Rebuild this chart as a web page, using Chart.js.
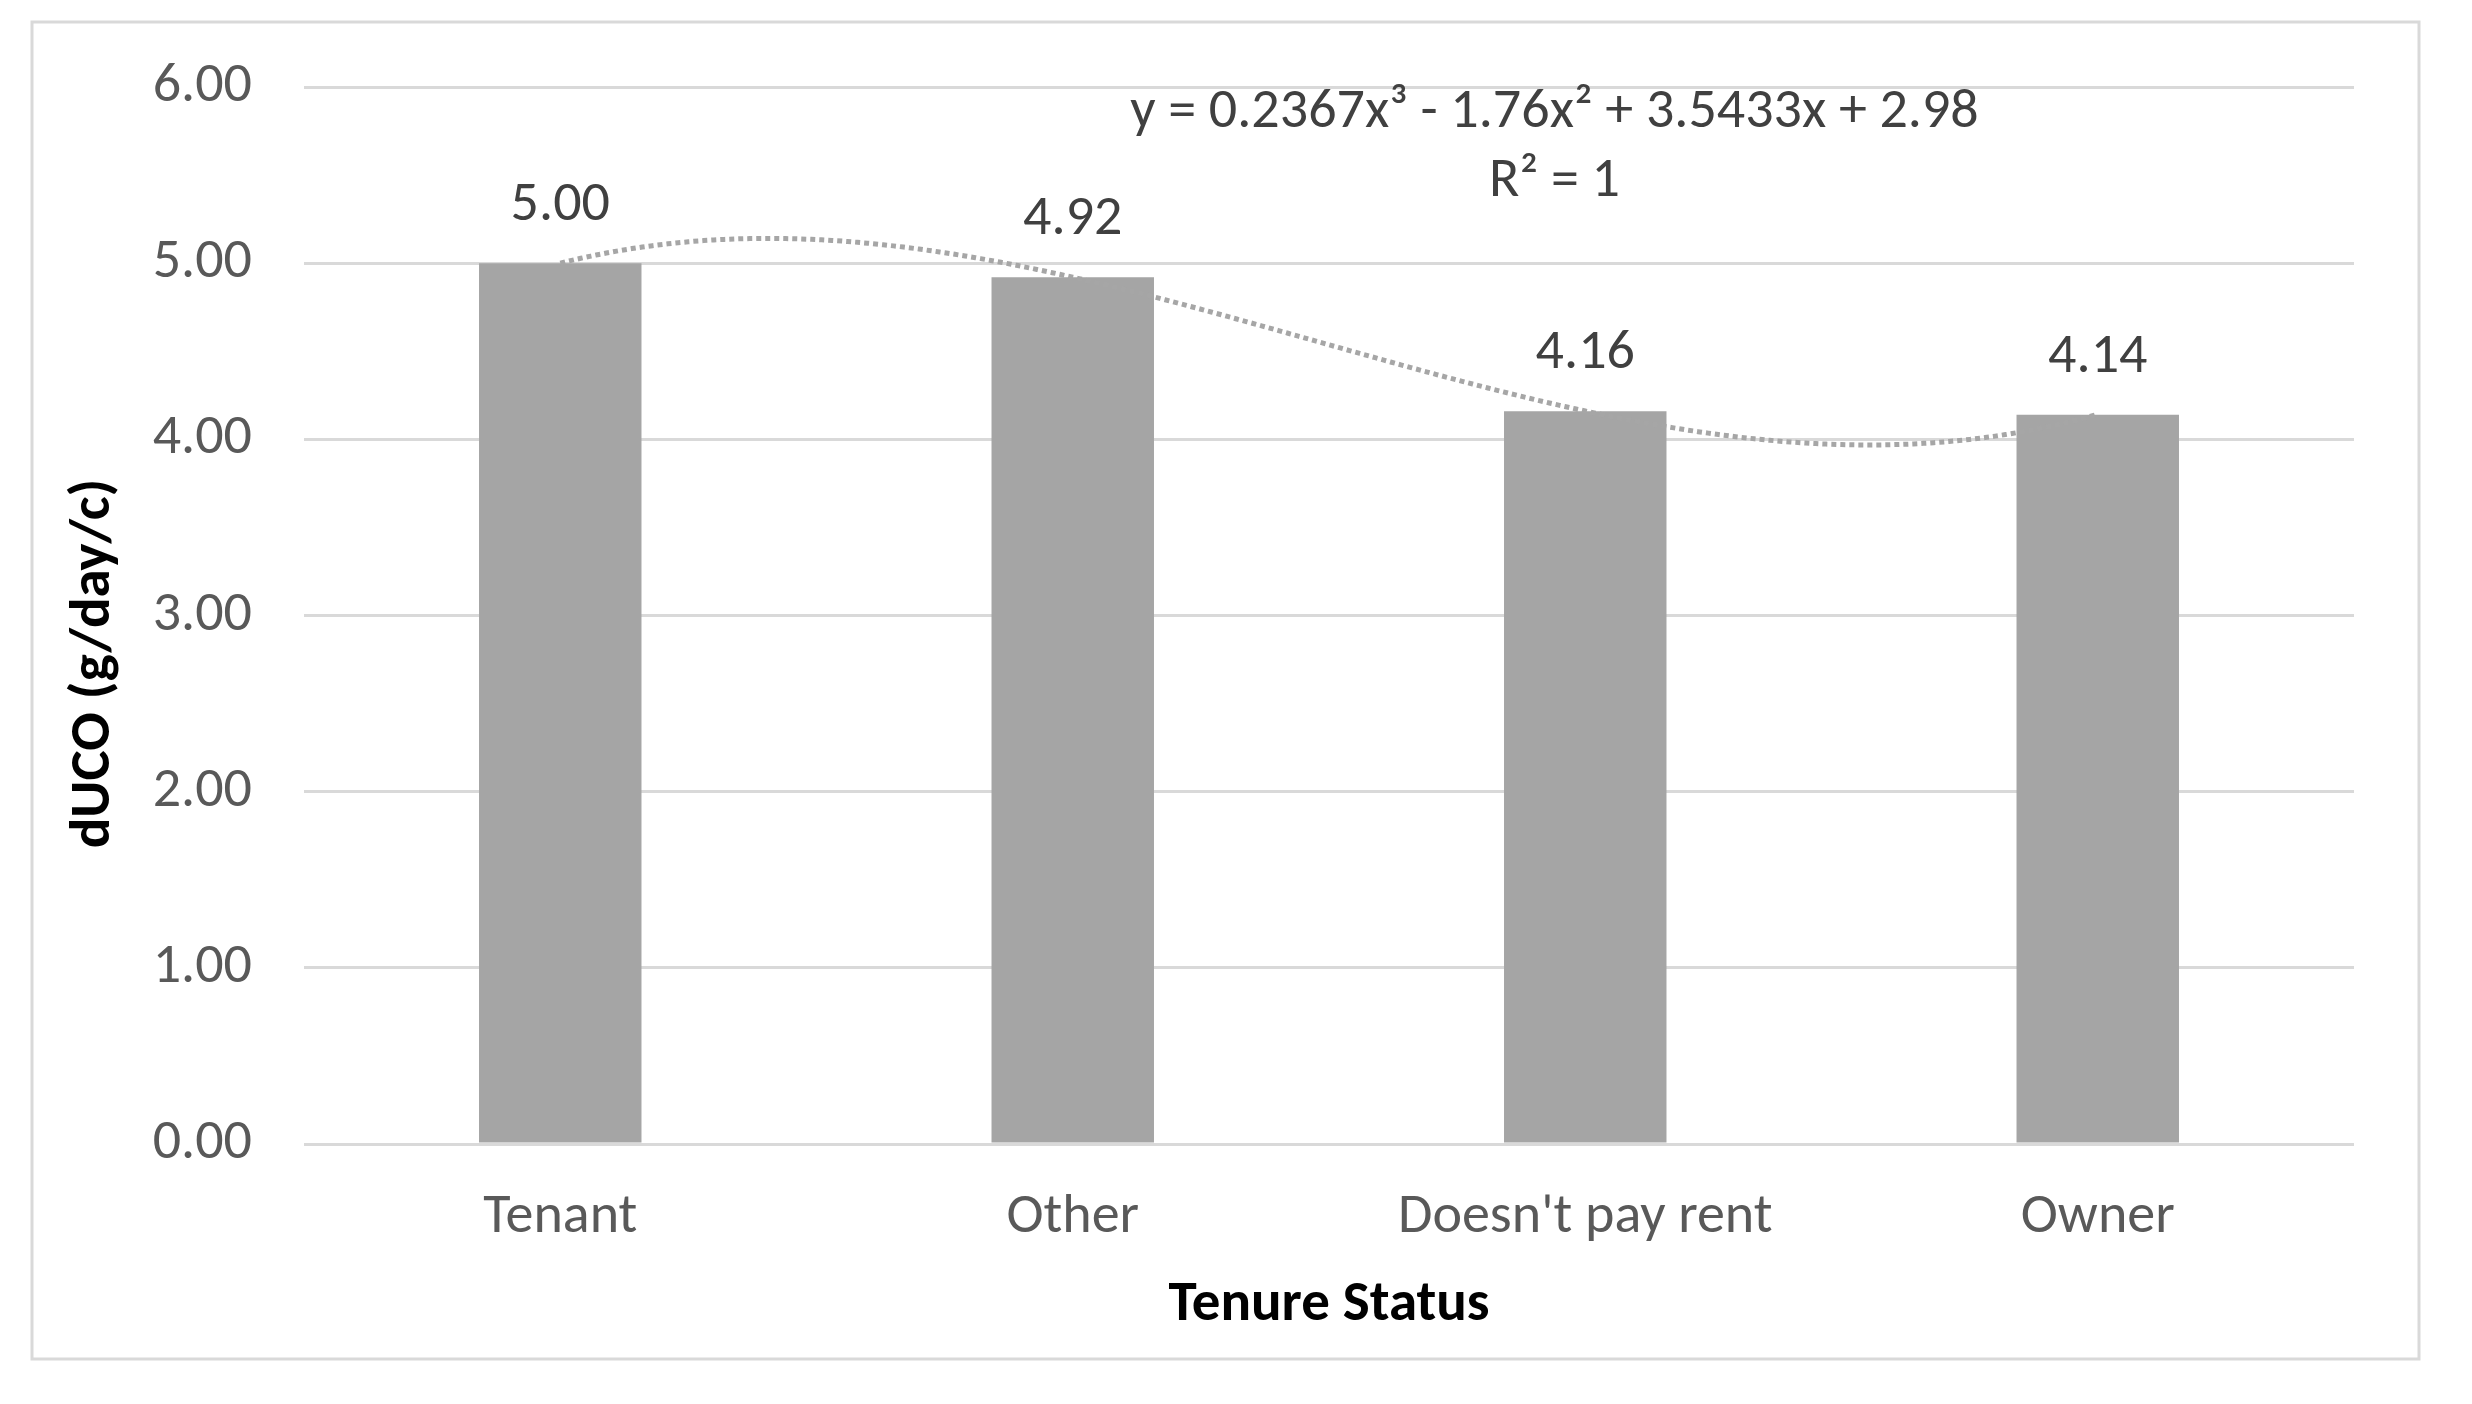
<!DOCTYPE html>
<html>
<head>
<meta charset="utf-8">
<script src="https://cdn.jsdelivr.net/npm/chart.js@4.4.0/dist/chart.umd.min.js"></script>
<style>
  html, body { margin: 0; padding: 0; background: #ffffff; }
  #wrap { position: relative; width: 2472px; height: 1404px; }
</style>
</head>
<body>
<div id="wrap"><canvas id="c" width="2472" height="1404"></canvas></div>
<script>
// ---- data ----
const categories = ["Tenant", "Other", "Doesn't pay rent", "Owner"];
const values = [5.00, 4.92, 4.16, 4.14];
const yTicks = [0, 1, 2, 3, 4, 5, 6];
// polynomial trendline coefficients (x^3, x^2, x, const), x = 1..n
const trendCoeffs = [0.2367, -1.76, 3.5433, 2.98];
const trendEquation = "y = 0.2367x³ - 1.76x² + 3.5433x + 2.98";
const trendR2 = "R² = 1";
const xTitle = "Tenure Status";
const yTitle = "dUCO (g/day/c)";

const FONT = "'Carlito', 'Liberation Sans Narrow', 'DejaVu Sans Condensed', 'Liberation Sans', sans-serif";
const FS = 56;
const FT = 57;

const framePlugin = {
  id: 'frame',
  beforeDraw(chart) {
    const ctx = chart.ctx;
    ctx.save();
    ctx.fillStyle = '#ffffff';
    ctx.fillRect(0, 0, chart.width, chart.height);
    ctx.strokeStyle = '#d9d9d9';
    ctx.lineWidth = 3;
    ctx.strokeRect(32, 22, 2387, 1337);
    ctx.restore();
  }
};

const yTitlePlugin = {
  id: 'ytitle',
  afterDraw(chart) {
    const ctx = chart.ctx;
    const ca = chart.chartArea;
    ctx.save();
    ctx.translate(95, (ca.top + ca.bottom) / 2 + 48);
    ctx.rotate(-Math.PI / 2);
    ctx.fillStyle = '#000000';
    ctx.font = 'bold ' + FT + 'px ' + FONT;
    ctx.textAlign = 'center';
    ctx.textBaseline = 'middle';
    ctx.fillText(yTitle, 0, 0);
    ctx.restore();
  }
};

const trendPlugin = {
  id: 'trend',
  afterDatasetsDraw(chart) {
    const ctx = chart.ctx;
    const xs = chart.scales.x, ys = chart.scales.y;
    const n = categories.length;
    const p0 = xs.getPixelForValue(0), p1 = xs.getPixelForValue(n - 1);
    ctx.save();
    ctx.strokeStyle = '#a6a6a6';
    ctx.lineWidth = 5;
    ctx.setLineDash([5, 4]);
    ctx.beginPath();
    const steps = 300;
    for (let s = 0; s <= steps; s++) {
      const xv = 1 + (n - 1) * s / steps;
      const yv = trendCoeffs[0] * xv ** 3 + trendCoeffs[1] * xv ** 2 + trendCoeffs[2] * xv + trendCoeffs[3];
      const px = p0 + (p1 - p0) * (xv - 1) / (n - 1);
      const py = ys.getPixelForValue(yv);
      if (s === 0) ctx.moveTo(px, py); else ctx.lineTo(px, py);
    }
    ctx.stroke();
    ctx.setLineDash([]);
    // equation
    const ca = chart.chartArea;
    ctx.fillStyle = '#404040';
    ctx.font = FS + 'px ' + FONT;
    ctx.textAlign = 'center';
    ctx.textBaseline = 'middle';
    const ex = ca.left + (ca.right - ca.left) * 0.61;
    ctx.fillText(trendEquation, ex, ca.top + 26);
    ctx.fillText(trendR2, ex, ca.top + 95);
    ctx.restore();
  }
};

const labelPlugin = {
  id: 'vlabels',
  afterDatasetsDraw(chart) {
    const ctx = chart.ctx;
    const meta = chart.getDatasetMeta(0);
    ctx.save();
    ctx.fillStyle = '#404040';
    ctx.font = FS + 'px ' + FONT;
    ctx.textAlign = 'center';
    ctx.textBaseline = 'middle';
    meta.data.forEach((el, i) => {
      ctx.fillText(values[i].toFixed(2), el.x, el.y - 57);
    });
    ctx.restore();
  }
};

new Chart(document.getElementById('c'), {
  type: 'bar',
  data: {
    labels: categories,
    datasets: [{
      data: values,
      backgroundColor: '#a5a5a5',
      borderWidth: 0,
      categoryPercentage: 1.0,
      barPercentage: 0.317
    }]
  },
  options: {
    responsive: false,
    animation: false,
    devicePixelRatio: 1,
    layout: { padding: { left: 0, right: 118, top: 87, bottom: 0 } },
    plugins: {
      legend: { display: false },
      tooltip: { enabled: false }
    },
    scales: {
      x: {
        grid: { display: false, drawTicks: false },
        border: { display: false },
        ticks: {
          color: '#595959',
          font: { family: FONT, size: FS },
          padding: 40,
          maxRotation: 0,
          autoSkip: false
        },
        title: {
          display: true,
          text: xTitle,
          color: '#000000',
          font: { family: FONT, size: FT, weight: 'bold' },
          padding: { top: 0, bottom: 64 }
        },
        afterFit(scale) { scale.height = 260; }
      },
      y: {
        min: 0,
        max: 6,
        afterBuildTicks(scale) { scale.ticks = yTicks.map(v => ({ value: v })); },
        grid: { color: '#d9d9d9', lineWidth: 3, drawTicks: false },
        border: { display: false },
        ticks: {
          color: '#595959',
          font: { family: FONT, size: FS },
          padding: 52,
          callback: v => Number(v).toFixed(2)
        },
        title: { display: false },
        afterFit(scale) { scale.width = 304; }
      }
    }
  },
  plugins: [framePlugin, trendPlugin, labelPlugin, yTitlePlugin]
});
</script>
</body>
</html>
